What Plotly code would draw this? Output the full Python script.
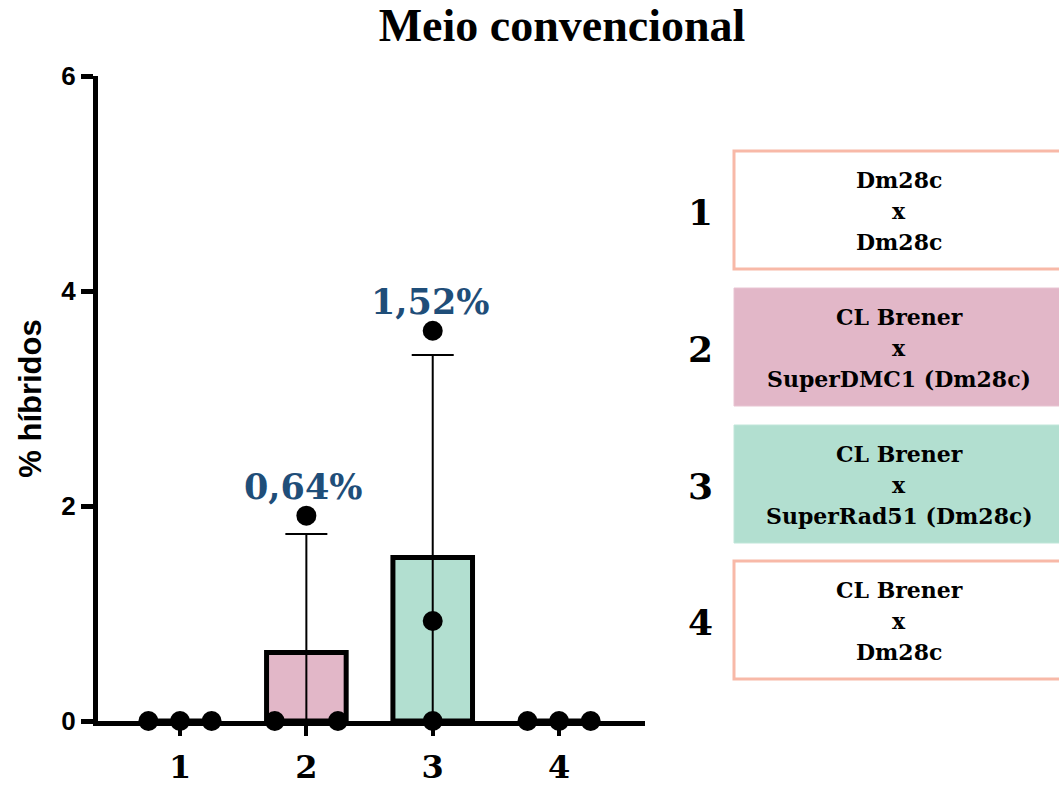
import numpy as np
import plotly.graph_objects as go

categories = [1, 2, 3, 4]
cat_labels = ["1", "2", "3", "4"]
points = {
    1: [0.0, 0.0, 0.0],
    2: [0.0, 1.91, 0.0],
    3: [0.0, 0.93, 3.63],
    4: [0.0, 0.0, 0.0],
}
point_offsets = {
    1: [-0.25, 0.0, 0.25],
    2: [-0.25, 0.0, 0.25],
    3: [0.0, 0.0, 0.0],
    4: [-0.25, 0.0, 0.25],
}
bar_colors = ["#ffffff", "#E2B7C8", "#B2DFD0", "#ffffff"]
pct_labels = {2: "0,64%", 3: "1,52%"}
yticks = [0, 2, 4, 6]
legend_numbers = ["1", "2", "3", "4"]
legend_lines = [
    ["Dm28c", "x", "Dm28c"],
    ["CL Brener", "x", "SuperDMC1 (Dm28c)"],
    ["CL Brener", "x", "SuperRad51 (Dm28c)"],
    ["CL Brener", "x", "Dm28c"],
]
legend_fill = ["#ffffff", "#E2B7C8", "#B2DFD0", "#ffffff"]
legend_border = ["#F8B9A8", "#E8C4D2", "#C0E6D9", "#F8B9A8"]

means = [float(np.mean(points[c])) for c in categories]
sds = [float(np.std(points[c], ddof=1)) for c in categories]

W, H = 1059, 787
L, R, T, B = 98, 414, 76, 66
PW, PH = W - L - R, H - T - B


def px(x):
    return (x - L) / PW


def py(y):
    return (H - B - y) / PH


fig = go.Figure()
fig.add_trace(go.Bar(
    x=categories, y=means, width=0.63,
    marker=dict(color=bar_colors, line=dict(color="black", width=5)),
    error_y=dict(type="data", array=sds, arrayminus=means, color="black",
                 thickness=2, width=21),
    showlegend=False,
))
xs, ys = [], []
for c in categories:
    for off, v in zip(point_offsets[c], points[c]):
        xs.append(c + off)
        ys.append(v)
fig.add_trace(go.Scatter(
    x=xs, y=ys, mode="markers",
    marker=dict(color="black", size=20),
    cliponaxis=False, showlegend=False,
))

annotations = []
for c, txt in pct_labels.items():
    top = max(points[c])
    annotations.append(dict(
        x=c - 0.02, y=top, xref="x", yref="y", text=txt, showarrow=False,
        xanchor="center", yanchor="middle", yshift=29,
        font=dict(family="DejaVu Serif", size=35, color="#1F4E79", weight="bold"),
    ))

box_tops = [151, 288, 425, 561]
box_h = 118
for i in range(4):
    y0 = box_tops[i]
    y1 = y0 + box_h
    annotations.append(dict(
        x=px(700), y=py((y0 + y1) / 2 + 2), xref="paper", yref="paper",
        xanchor="center", yanchor="middle",
        text=legend_numbers[i], showarrow=False,
        font=dict(family="DejaVu Serif", size=36, color="black", weight="bold"),
    ))
    for j, line in enumerate(legend_lines[i]):
        annotations.append(dict(
            x=px(899), y=py((y0 + y1) / 2 + (j - 1) * 31 + 1), xref="paper", yref="paper",
            xanchor="center", yanchor="middle",
            text=line, showarrow=False,
            font=dict(family="DejaVu Serif", size=22, color="black", weight="bold"),
        ))

shapes = []
for i in range(4):
    y0 = box_tops[i]
    y1 = y0 + box_h
    bw = 3 if legend_fill[i] == "#ffffff" else 1
    shapes.append(dict(
        type="rect", xref="paper", yref="paper",
        x0=px(734), x1=px(1062), y0=py(y1), y1=py(y0),
        fillcolor=legend_fill[i], line=dict(color=legend_border[i], width=bw),
        layer="below",
    ))

fig.update_layout(
    width=W, height=H,
    margin=dict(l=L, r=R, t=T, b=B, autoexpand=False),
    plot_bgcolor="white", paper_bgcolor="white",
    title=dict(text="Meio convencional", x=562 / W, xanchor="center", y=1 - 25 / H, yanchor="middle",
               font=dict(family="Liberation Serif", size=46, color="black", weight="bold")),
    xaxis=dict(range=[0.351, 4.68], tickvals=categories, ticktext=cat_labels, automargin=False,
               showline=True, linecolor="black", linewidth=5, ticks="outside",
               ticklen=10, tickwidth=4, tickcolor="black", showgrid=False, zeroline=False,
               ticklabelstandoff=4,
               tickfont=dict(family="DejaVu Serif", size=32, color="black", weight="bold")),
    yaxis=dict(range=[0, 6], tickvals=yticks, showline=True, linecolor="black", linewidth=5,
               ticks="outside", ticklen=12, tickwidth=5, tickcolor="black", showgrid=False,
               zeroline=False, automargin=False,
               tickfont=dict(family="Liberation Sans", size=26, color="black", weight="bold"),
               title=dict(text="% híbridos", standoff=12,
                          font=dict(family="Liberation Sans", size=31, color="black", weight="bold"))),
    annotations=annotations, shapes=shapes,
    bargap=0.3,
)
fig.write_html("out.html")
